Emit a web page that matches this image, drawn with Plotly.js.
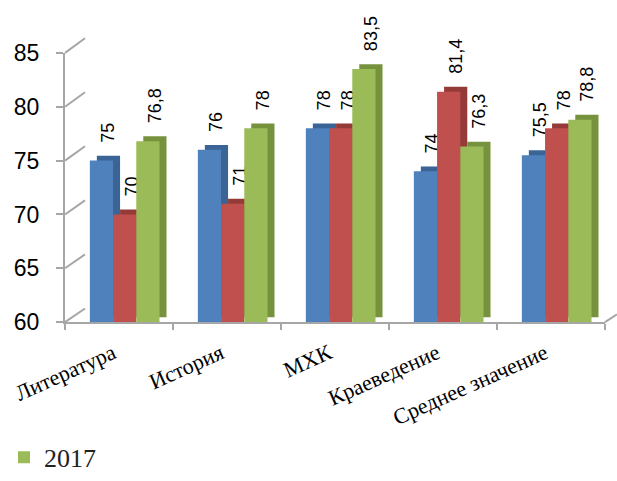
<!DOCTYPE html>
<html>
<head>
<meta charset="utf-8">
<script src="https://cdn.plot.ly/plotly-3.0.1.min.js"></script>
<style>html,body{margin:0;padding:0;background:#fff;}#chart{width:617px;height:481px;}</style>
</head>
<body>
<div id="chart"></div>
<script>
// ---- data ----
const categories = ['Литература', 'История', 'МХК', 'Краеведение', 'Среднее значение'];
const seriesNames = ['2015', '2016', '2017'];
const values2015 = [75, 76, 78, 74, 75.5];
const values2016 = [70, 71, 78, 81.4, 78];
const values2017 = [76.8, 78, 83.5, 76.3, 78.8];
const yTicks = [60, 65, 70, 75, 80, 85];

// ---- styling ----
const W = 617, H = 481;
const frontColors = ['#4F81BD', '#C0504D', '#9BBB59'];
const sideColors = ['#3A6396', '#943B39', '#76923C'];
const gridColor = '#A6A6A6';
const barWidth = 0.215;
const barOffsets = [-0.27, -0.055, 0.16];

function dx(px) { return px / W; }
function dy(py) { return 1 - py / H; }

// pixel frames
const front = {x0: 65, x1: 605, yTop: 54, yBot: 329};
const shadow = {x0: 72, x1: 612, yTop: 49, yBot: 324};
const wall = {x0: 85, x1: 617, yTop: 39, yBot: 315};
const yMin = 60, yMax = 85;

function fmt(v) { return '\u00a0\u00a0' + String(v).replace('.', ','); }

const allSeries = [values2015, values2016, values2017];
const traces = [];
allSeries.forEach((vals, i) => {
  traces.push({
    type: 'bar', x: categories, y: vals, xaxis: 'x2', yaxis: 'y2',
    width: barWidth, offset: barOffsets[i],
    marker: {color: sideColors[i]},
    text: vals.map(fmt), textposition: 'outside', textangle: -90,
    textfont: {family: 'Liberation Sans, Arial, sans-serif', size: 18, color: '#000'},
    constraintext: 'none', cliponaxis: false,
    showlegend: false, hoverinfo: 'skip', name: seriesNames[i]
  });
});
allSeries.forEach((vals, i) => {
  traces.push({
    type: 'bar', x: categories, y: vals, xaxis: 'x3', yaxis: 'y3',
    width: barWidth, offset: barOffsets[i],
    marker: {color: frontColors[i]},
    name: seriesNames[i], showlegend: i === 2
  });
});

function frontY(v) { return front.yBot - (v - yMin) / (yMax - yMin) * (front.yBot - front.yTop); }
function wallY(v) { return wall.yBot - (v - yMin) / (yMax - yMin) * (wall.yBot - wall.yTop); }

const shapes = yTicks.map(v => ({
  type: 'line', xref: 'paper', yref: 'paper', layer: 'below',
  x0: dx(front.x0), y0: dy(frontY(v)), x1: dx(wall.x0), y1: dy(wallY(v)),
  line: {color: gridColor, width: 2}
}));
shapes.push({
  type: 'line', xref: 'paper', yref: 'paper', layer: 'below',
  x0: dx(front.x1), y0: dy(front.yBot), x1: dx(wall.x1), y1: dy(wall.yBot + 6),
  line: {color: gridColor, width: 2}
});

const layout = {
  width: W, height: H,
  margin: {l: 0, r: 0, t: 0, b: 0},
  paper_bgcolor: '#fff', plot_bgcolor: 'rgba(0,0,0,0)',
  showlegend: true,
  legend: {
    orientation: 'h', x: dx(4), xanchor: 'left', y: dy(467), yanchor: 'middle',
    font: {family: 'Liberation Serif, Times New Roman, serif', size: 26, color: '#222'},
    bgcolor: 'rgba(0,0,0,0)'
  },
  xaxis: {domain: [dx(wall.x0), 1], range: [0, 1], anchor: 'y', visible: false, fixedrange: true},
  yaxis: {domain: [dy(wall.yBot), dy(wall.yTop)], range: [yMin, yMax], anchor: 'x',
    tickvals: yTicks, showgrid: true, gridcolor: gridColor, gridwidth: 2,
    showticklabels: false, ticks: '', zeroline: false, showline: false},
  xaxis2: {domain: [dx(shadow.x0), dx(shadow.x1)], range: [-0.5, 4.5], anchor: 'y2',
    type: 'category', categoryarray: categories, visible: false},
  yaxis2: {domain: [dy(shadow.yBot), dy(shadow.yTop)], range: [yMin, yMax], anchor: 'x2', visible: false},
  xaxis3: {domain: [dx(front.x0), dx(front.x1)], range: [-0.5, 4.5], anchor: 'y3',
    type: 'category', categoryarray: categories,
    showline: true, linecolor: gridColor, linewidth: 2,
    ticks: 'outside', tickson: 'boundaries', ticklen: 6, tickcolor: gridColor, tickwidth: 2,
    tickangle: -24, showgrid: false, ticklabelstandoff: 8, ticklabelshift: -6,
    tickfont: {family: 'Liberation Serif, Times New Roman, serif', size: 22, color: '#000'}},
  yaxis3: {domain: [dy(front.yBot), dy(front.yTop)], range: [yMin, yMax], anchor: 'x3',
    tickvals: yTicks, showline: true, linecolor: gridColor, linewidth: 2,
    ticks: 'outside', ticklen: 7, tickcolor: gridColor, tickwidth: 2,
    showgrid: false, zeroline: false, ticklabelstandoff: 12,
    tickfont: {family: 'Liberation Sans, Arial, sans-serif', size: 23, color: '#000'}},
  shapes: shapes
};

Plotly.newPlot('chart', traces, layout, {staticPlot: true, displayModeBar: false});
</script>
</body>
</html>
